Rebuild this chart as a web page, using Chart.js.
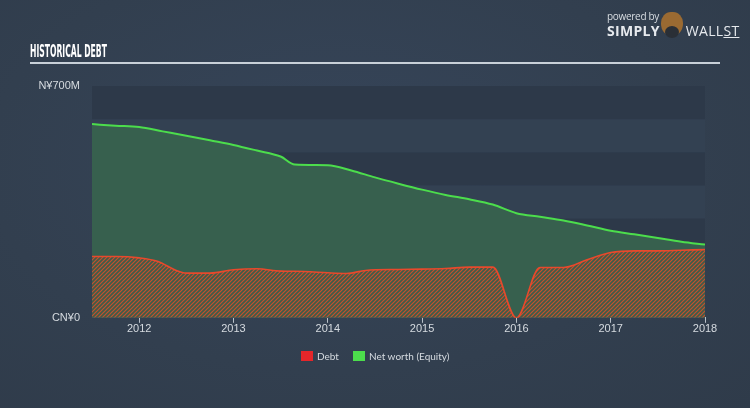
<!DOCTYPE html>
<html>
<head>
<meta charset="utf-8">
<script src="https://cdn.jsdelivr.net/npm/chart.js@4"></script>
<style>
  body { margin:0; width:750px; height:408px; overflow:hidden;
    background: radial-gradient(ellipse at 45% 40%, #36455a 0%, #323f4f 60%, #2f3b4a 100%);
    font-family: "Open Sans", Lato, sans-serif; }
  #wrap { position:absolute; left:0; top:0; width:750px; height:408px; }
  #title { position:absolute; left:30px; top:41px; color:#fff; font-family:"DejaVu Sans Condensed","DejaVu Sans",sans-serif;
    font-weight:bold; font-size:17px; white-space:nowrap; transform-origin:0 0; }
  #rule { position:absolute; left:30px; top:62px; width:690px; height:2px; background:#c8d0d8; }
  #logo { position:absolute; left:607px; top:9px; color:#e6e9ed; }
  #logo .pb { font-size:10px; letter-spacing:-0.3px; color:#d8dde2; }
  #logo .sw { font-size:14px; font-weight:bold; margin-top:-2px; letter-spacing:0.3px; }
  #logo .sw span { font-weight:normal; margin-left:26px; }
  #bull { position:absolute; left:661px; top:12px; width:22px; height:24px; border-radius:45% 45% 50% 50%; background:#9a6a32; }
  #bull:after { content:''; position:absolute; left:4px; top:14px; width:14px; height:12px; border-radius:50%; background:#2a2f36; }
  #legend { position:absolute; top:350px; left:301px; font-family:Lato,sans-serif; font-size:10px; color:#d6dbe0; white-space:nowrap; }
  #legend span.box { display:inline-block; width:12px; height:10px; vertical-align:-1px; margin-right:4px; }
  #legend span.item { margin-right:14px; }
</style>
</head>
<body>
<div id="wrap"><canvas id="myChart" width="750" height="408"></canvas></div>
<div id="title">HISTORICAL DEBT</div>
<div id="rule"></div>
<div id="bull"></div>
<div id="logo"><div class="pb">powered by</div><div class="sw">SIMPLY<span>WALL<u>ST</u></span></div></div>
<div id="legend"><span class="item"><span class="box" style="background:#e5262a"></span>Debt</span><span class="item"><span class="box" style="background:#4cdd4c"></span>Net worth (Equity)</span></div>
<script>
const debtDates  = [2011.5, 2011.75, 2012, 2012.2, 2012.4, 2012.5, 2012.75, 2013, 2013.25, 2013.5, 2013.75, 2014, 2014.2, 2014.4, 2014.75, 2015, 2015.25, 2015.5, 2015.75, 2016, 2016.25, 2016.5, 2016.75, 2017, 2017.25, 2017.5, 2017.75, 2018];
const debtValues = [185, 185, 181, 170, 142, 135, 135, 145, 148, 141, 140, 136, 134, 143, 146, 147, 149, 153, 153, 0, 152, 152, 175, 197, 202, 202, 204, 206];

const equityDates  = [2011.5, 2011.75, 2012, 2012.25, 2012.5, 2012.75, 2013, 2013.25, 2013.5, 2013.65, 2014, 2014.25, 2014.5, 2014.75, 2015, 2015.25, 2015.5, 2015.75, 2016, 2016.25, 2016.5, 2016.75, 2017, 2017.25, 2017.5, 2017.75, 2018];
const equityValues = [585, 580, 576, 563, 550, 536, 522, 505, 487, 463, 461, 445, 424, 405, 387, 371, 358, 342, 316, 305, 294, 279, 263, 252, 241, 230, 221];

const yearTicks = [2012, 2013, 2014, 2015, 2016, 2017, 2018];
const bandSteps = [0, 100, 200, 300, 400, 500, 600, 700];

// squeeze the title into the narrow width the original uses
const t = document.getElementById('title');
t.style.transform = 'scaleX(' + (77 / t.offsetWidth) + ')';

function hatch(){
  const c = document.createElement('canvas');
  c.width = 4; c.height = 4;
  const g = c.getContext('2d');
  g.fillStyle = '#3d5c49';
  g.fillRect(0,0,4,4);
  g.strokeStyle = '#c4512e';
  g.lineWidth = 1.2;
  g.beginPath();
  g.moveTo(0,4); g.lineTo(4,0);
  g.moveTo(-1,1); g.lineTo(1,-1);
  g.moveTo(3,5); g.lineTo(5,3);
  g.stroke();
  return g.createPattern(c, 'repeat');
}

const bands = {
  id: 'bands',
  beforeDatasetsDraw(chart){
    const {ctx, chartArea, scales} = chart;
    for (let i = 0; i < bandSteps.length - 1; i++){
      const y1 = scales.y.getPixelForValue(bandSteps[i]);
      const y2 = scales.y.getPixelForValue(bandSteps[i+1]);
      ctx.fillStyle = (i % 2 === 0) ? '#2d3949' : '#334152';
      ctx.fillRect(chartArea.left, y2, chartArea.right - chartArea.left, y1 - y2);
    }
  }
};

const ctx = document.getElementById('myChart').getContext('2d');
new Chart(ctx, {
  type: 'line',
  data: {
    datasets: [{
      label: 'Debt',
      data: debtDates.map((d,i) => ({x:d, y:debtValues[i]})),
      borderColor: '#e8492c',
      borderWidth: 1.6,
      backgroundColor: hatch(),
      fill: 'origin',
      pointRadius: 0,
      cubicInterpolationMode: 'monotone'
    },{
      label: 'Net worth (Equity)',
      data: equityDates.map((d,i) => ({x:d, y:equityValues[i]})),
      borderColor: '#4cdd4c',
      borderWidth: 2,
      backgroundColor: '#37604e',
      fill: 'origin',
      pointRadius: 0,
      cubicInterpolationMode: 'monotone'
    }]
  },
  options: {
    responsive: false,
    animation: false,
    layout: { padding: { top: 86, right: 45, bottom: 72, left: 0 } },
    plugins: {
      tooltip: { enabled: false },
      legend: { display: false }
    },
    scales: {
      x: {
        type: 'linear',
        min: 2011.5, max: 2018,
        afterBuildTicks: (s) => { s.ticks = yearTicks.map(v => ({value: v})); },
        ticks: { color: '#d6dbe0', font: { size: 11 }, padding: 0, maxRotation: 0, callback: v => String(v) },
        grid: { drawOnChartArea: false, drawTicks: true, tickLength: 5, color: '#b8c0c8' },
        border: { color: '#b8c0c8', width: 1 }
      },
      y: {
        min: 0, max: 700,
        afterBuildTicks: (s) => { s.ticks = [{value: 0}, {value: 700}]; },
        afterFit: (s) => { s.width = 92; },
        ticks: { color: '#d6dbe0', font: { size: 11 }, padding: 4,
          callback: v => v === 0 ? 'CN¥0' : 'N¥700M' },
        grid: { display: false },
        border: { display: false }
      }
    }
  },
  plugins: [bands]
});
</script>
</body>
</html>
